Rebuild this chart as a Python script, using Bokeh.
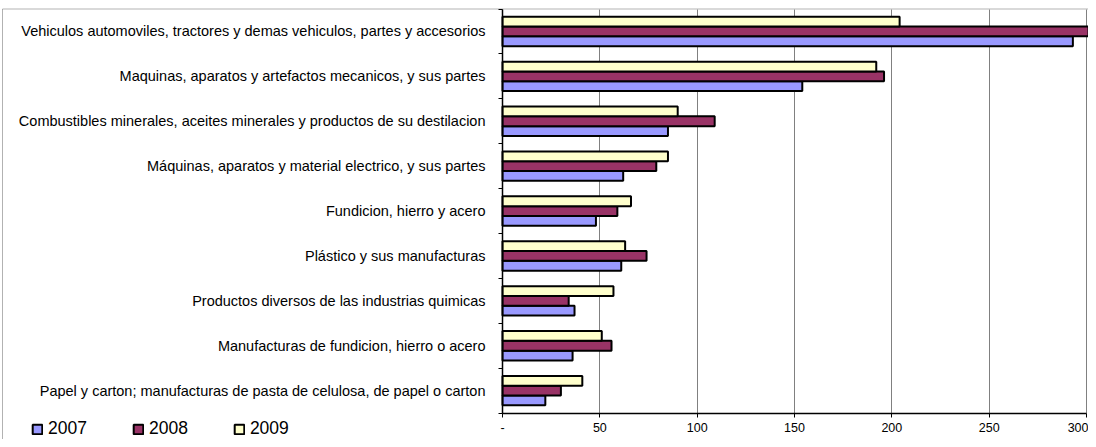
from bokeh.plotting import figure
from bokeh.models import (ColumnDataSource, FixedTicker, Legend, LegendItem, Range1d,
                          LinearAxis, Grid, BoxAnnotation)
from bokeh.embed import file_html
from bokeh.resources import INLINE

categories = [
    "Vehiculos automoviles, tractores y demas vehiculos, partes y accesorios",
    "Maquinas, aparatos y artefactos mecanicos, y sus partes",
    "Combustibles minerales, aceites minerales y productos de su destilacion",
    "Máquinas, aparatos y material electrico, y sus partes",
    "Fundicion, hierro y acero",
    "Plástico y sus manufacturas",
    "Productos diversos de las industrias quimicas",
    "Manufacturas de fundicion, hierro o acero",
    "Papel y carton; manufacturas de pasta de celulosa, de papel o carton",
]
v2007 = [293, 154, 85, 62, 48, 61, 37, 36, 22]
v2008 = [303, 196, 109, 79, 59, 74, 34, 56, 30]
v2009 = [204, 192, 90, 85, 66, 63, 57, 51, 41]
years = ["2007", "2008", "2009"]
colors = ["#9999FF", "#993366", "#FFFFCC"]
x_ticks = [0, 50, 100, 150, 200, 250, 300]

# ---- layout (pixels) ----
W, H = 1088, 439
X0_PX, X300_PX = 502, 1086        # pixel of value 0 and 300
TOP_PX, BAND_PX = 8.5, 44.9       # top of plot area, height of one category band
sx = (X300_PX - X0_PX) / 300.0
x_start = -X0_PX / sx
x_end = (W - X0_PX) / sx
y_top = -TOP_PX / BAND_PX
y_bottom = (H - TOP_PX) / BAND_PX
n = len(categories)

p = figure(width=W, height=H, output_backend="svg", toolbar_location=None,
           x_range=Range1d(x_start, x_end), y_range=Range1d(y_bottom, y_top),
           x_axis_location=None, y_axis_location=None,
           min_border_left=0, min_border_right=0, min_border_top=0, min_border_bottom=0)
p.background_fill_color = "white"
p.border_fill_color = "white"
p.outline_line_color = None
p.center = [r for r in p.center if not isinstance(r, Grid)]

# outer chart border
p.add_layout(BoxAnnotation(left=(2 - X0_PX) / sx, right=x_end + 50, top=0, bottom=y_bottom + 5,
                           fill_alpha=0, line_color="black", line_width=1, level="underlay"))

# vertical grid lines (only over the plot area)
grid = Grid(dimension=0, ticker=FixedTicker(ticks=x_ticks), grid_line_color="#808080",
            grid_line_width=1)
if "cross_bounds" in Grid.properties():
    grid.cross_bounds = (0, n)
p.add_layout(grid)

bw = 0.218
offsets = {"2007": bw, "2008": 0.0, "2009": -bw}
centers = [i + 0.5 for i in range(n)]
src = ColumnDataSource(dict(
    cat=categories, v2007=v2007, v2008=v2008, v2009=v2009,
    y2007=[c + offsets["2007"] for c in centers],
    y2008=[c + offsets["2008"] for c in centers],
    y2009=[c + offsets["2009"] for c in centers],
))

renderers = []
for yr, col in zip(years, colors):
    r = p.hbar(y="y" + yr, right="v" + yr, left=0, height=bw, source=src,
               fill_color=col, line_color="black", line_width=2)
    renderers.append(r)

# x axis
xaxis = LinearAxis(fixed_location=n, bounds=(0, 300), ticker=FixedTicker(ticks=x_ticks))
xaxis.major_label_overrides = {0: "-"}
xaxis.major_label_text_font = "Liberation Sans"
xaxis.major_label_text_font_size = "12.5px"
xaxis.major_label_text_color = "black"
xaxis.axis_line_color = "black"
xaxis.axis_line_width = 1.5
xaxis.major_tick_line_color = "black"
xaxis.major_tick_out = 4
xaxis.major_tick_in = 0
xaxis.minor_tick_line_color = None
xaxis.major_label_standoff = 6
p.add_layout(xaxis, "below")

# y axis (category labels)
yaxis = LinearAxis(fixed_location=0, bounds=(0, n),
                   ticker=FixedTicker(ticks=centers, minor_ticks=list(range(n + 1))))
yaxis.major_label_overrides = {c: name for c, name in zip(centers, categories)}
yaxis.major_label_text_font = "Liberation Sans"
yaxis.major_label_text_font_size = "14.5px"
yaxis.major_label_text_color = "black"
yaxis.axis_line_color = "black"
yaxis.axis_line_width = 1.5
yaxis.major_tick_line_color = None
yaxis.major_tick_out = 0
yaxis.major_tick_in = 0
yaxis.minor_tick_line_color = "black"
yaxis.minor_tick_out = 4
yaxis.minor_tick_in = 0
yaxis.major_label_standoff = 13
p.add_layout(yaxis, "left")

legend = Legend(items=[LegendItem(label=yr, renderers=[r]) for yr, r in zip(years, renderers)],
                orientation="horizontal", location=(31, 0),
                glyph_width=12, glyph_height=12, label_standoff=5, spacing=45,
                label_height=21, padding=0, margin=0, border_line_color=None,
                background_fill_alpha=0,
                label_text_font="Liberation Sans", label_text_font_size="17.5px",
                label_text_color="black")
p.add_layout(legend, "center")

open("out.html", "w").write(file_html(p, INLINE))
